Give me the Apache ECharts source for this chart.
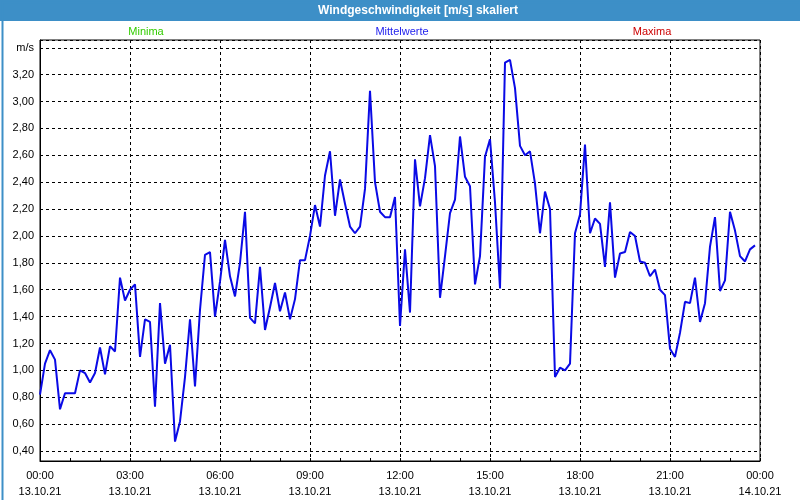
<!DOCTYPE html>
<html>
<head>
<meta charset="utf-8">
<script src="https://cdn.jsdelivr.net/npm/echarts@6/dist/echarts.min.js"></script>
<style>html,body{margin:0;padding:0;background:#fff}#c{width:800px;height:500px}</style>
</head>
<body>
<div id="c"></div>
<script>
// Chart title and legend labels
const titleText = 'Windgeschwindigkeit [m/s] skaliert';
const legendLabels = ['Minima', 'Mittelwerte', 'Maxima'];
const yUnit = 'm/s';

// Time axis: 10-minute steps from 13.10.21 00:00 to 14.10.21 00:00
const startDate = '13.10.21';
const endDate = '14.10.21';
const stepMinutes = 10;
const categories = [];
for (let m = 0; m <= 24 * 60; m += stepMinutes) {
  const h = Math.floor(m / 60) % 24, mm = m % 60;
  const d = m >= 24 * 60 ? endDate : startDate;
  categories.push(d + ' ' + String(h).padStart(2, '0') + ':' + String(mm).padStart(2, '0'));
}

// Mean wind speed (m/s), one value per 10 minutes
const meanValues = [
  0.82, 1.05, 1.15, 1.08, 0.71, 0.83, 0.83, 0.83, 1.00, 0.98, 0.91, 0.98,
  1.17, 0.97, 1.18, 1.14, 1.69, 1.52, 1.60, 1.64, 1.10, 1.38, 1.36, 0.73,
  1.50, 1.05, 1.19, 0.47, 0.62, 0.95, 1.38, 0.88, 1.45, 1.86, 1.88, 1.40,
  1.66, 1.97, 1.70, 1.55, 1.80, 2.18, 1.39, 1.35, 1.77, 1.30, 1.47, 1.65,
  1.44, 1.58, 1.38, 1.53, 1.82, 1.82, 2.00, 2.23, 2.07, 2.45, 2.63, 2.15,
  2.42, 2.24, 2.07, 2.02, 2.07, 2.35, 3.08, 2.40, 2.18, 2.14, 2.14, 2.29,
  1.33, 1.90, 1.43, 2.57, 2.22, 2.43, 2.75, 2.52, 1.54, 1.85, 2.17, 2.27,
  2.74, 2.44, 2.37, 1.64, 1.85, 2.59, 2.72, 2.25, 1.61, 3.29, 3.31, 3.10,
  2.67, 2.60, 2.63, 2.39, 2.02, 2.33, 2.20, 0.95, 1.02, 1.00, 1.05, 2.02,
  2.16, 2.68, 2.02, 2.13, 2.09, 1.77, 2.25, 1.69, 1.87, 1.88, 2.03, 2.00,
  1.81, 1.80, 1.70, 1.75, 1.60, 1.56, 1.16, 1.10, 1.28, 1.51, 1.50, 1.69,
  1.36, 1.50, 1.92, 2.14, 1.59, 1.67, 2.18, 2.04, 1.85, 1.81, 1.90, 1.93
];

// Visible value range of the y axis
const yMin = 0.3255;
const yMax = 3.458;

const font = 'Liberation Sans';
const chart = echarts.init(document.getElementById('c'), null, {renderer: 'canvas'});
chart.setOption({
  animation: false,
  backgroundColor: '#ffffff',
  graphic: [
    {type: 'rect', left: 0, top: 0, shape: {width: 800, height: 21}, style: {fill: '#3d8fc7'}, z: 10},
    {type: 'rect', left: 0, top: 0, shape: {x: 0.5, y: 0.5, width: 799, height: 499}, style: {fill: 'none', stroke: '#3d8fc7', lineWidth: 2}, z: 10},
    {type: 'text', x: 418, y: 10.5, style: {text: titleText, fill: '#ffffff', font: 'bold 12px "' + font + '"', textAlign: 'center', textVerticalAlign: 'middle'}, z: 11},
    {type: 'text', x: 146, y: 32, style: {text: legendLabels[0], fill: '#33cc00', font: '11px "' + font + '"', textAlign: 'center', textVerticalAlign: 'middle'}, z: 11},
    {type: 'text', x: 402, y: 32, style: {text: legendLabels[1], fill: '#2222ee', font: '11px "' + font + '"', textAlign: 'center', textVerticalAlign: 'middle'}, z: 11},
    {type: 'text', x: 652, y: 32, style: {text: legendLabels[2], fill: '#cc0000', font: '11px "' + font + '"', textAlign: 'center', textVerticalAlign: 'middle'}, z: 11}
  ],
  grid: {left: 40, right: 40, top: 40, bottom: 39, show: true, borderColor: '#000', borderWidth: 1, backgroundColor: 'transparent'},
  xAxis: {
    type: 'category',
    data: categories,
    boundaryGap: false,
    axisLine: {lineStyle: {color: '#000', width: 1}},
    axisTick: {show: true, inside: true, length: 3, interval: 5, lineStyle: {color: '#000'}},
    splitLine: {show: true, interval: 17, lineStyle: {color: '#000', type: [3, 3], width: 1}},
    axisLabel: {
      interval: 17, color: '#000', fontFamily: font, fontSize: 11, margin: 7, lineHeight: 16,
      formatter: function (v) { const p = v.split(' '); return p[1] + '\n' + p[0]; }
    }
  },
  yAxis: {
    type: 'value',
    min: yMin, max: yMax, splitNumber: 15,
    axisLine: {show: true, lineStyle: {color: '#000', width: 1}},
    axisTick: {show: false},
    splitLine: {show: true, lineStyle: {color: '#000', type: [3, 3], width: 1}},
    axisLabel: {
      color: '#000', fontFamily: font, fontSize: 11, margin: 6, showMinLabel: false, showMaxLabel: false,
      formatter: function (v) {
        if (Math.abs(v * 5 - Math.round(v * 5)) > 1e-6) return '';
        if (Math.abs(v - 3.4) < 1e-6) return yUnit;
        return v.toFixed(2).replace('.', ',');
      }
    }
  },
  series: [{
    type: 'line',
    data: meanValues,
    showSymbol: false,
    symbol: 'none',
    lineStyle: {color: '#0a0ae6', width: 2},
    clip: true
  }]
});
</script>
</body>
</html>
